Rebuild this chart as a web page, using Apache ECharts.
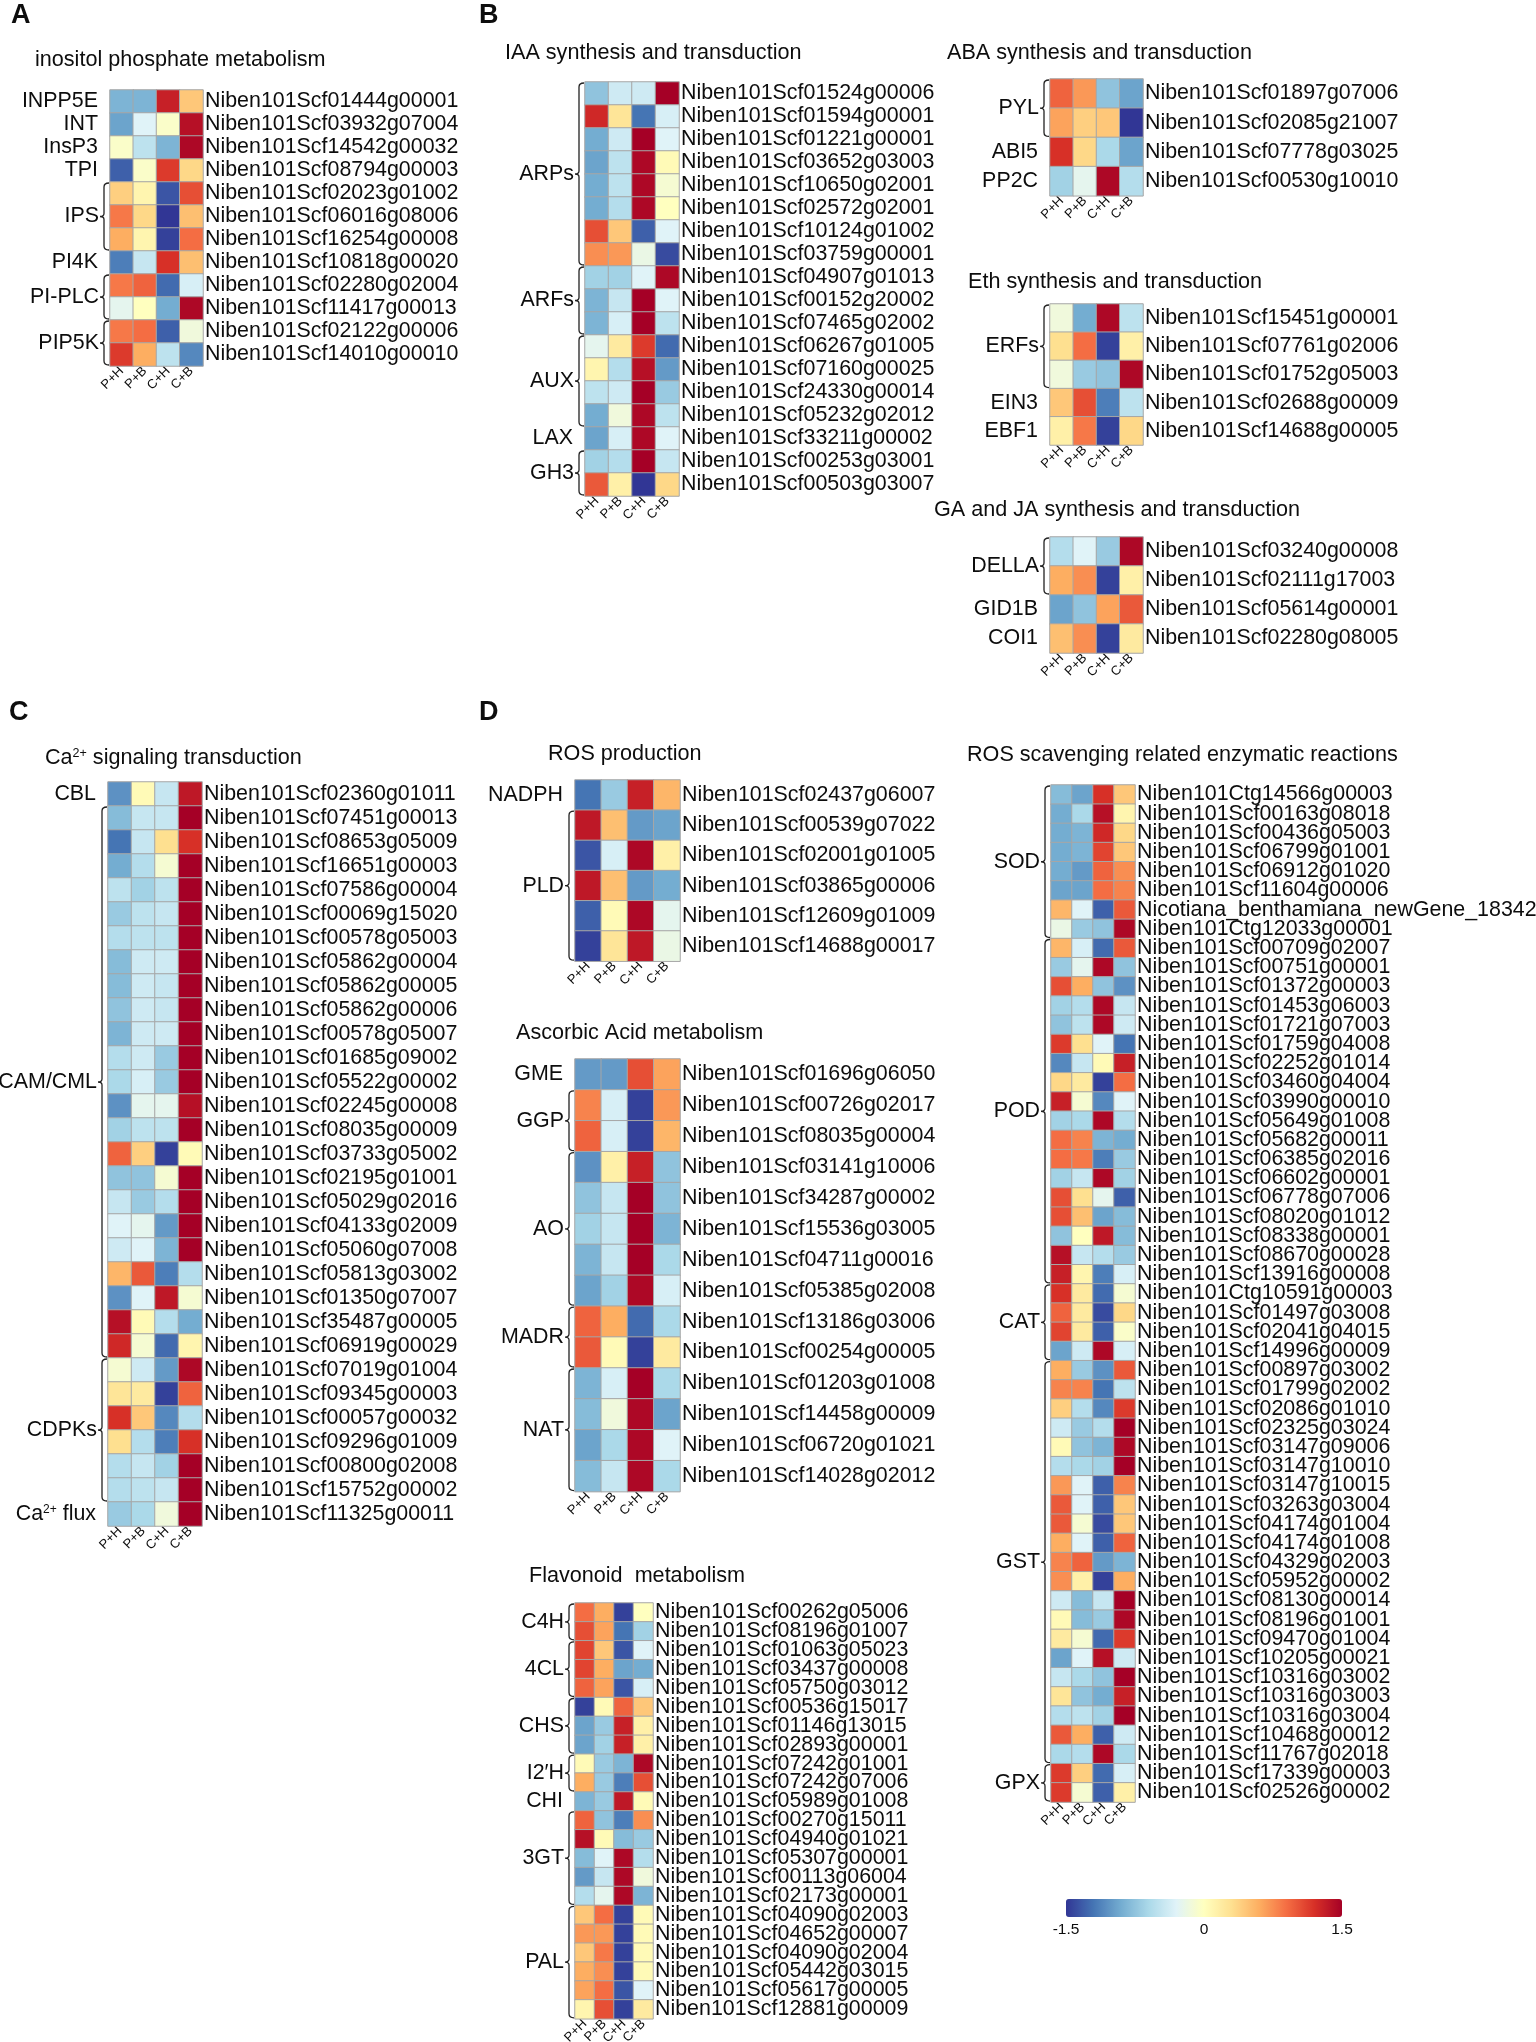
<!DOCTYPE html>
<html>
<head>
<meta charset="utf-8">
<script src="https://cdn.jsdelivr.net/npm/echarts@6/dist/echarts.min.js"></script>
<style>html,body{margin:0;padding:0;background:#fff}#chart{width:1536px;height:2042px}</style>
</head>
<body>
<div id="chart"></div>
<script>
// ---------------- DATA ----------------
const conditions = ['P+H', 'P+B', 'C+H', 'C+B'];

const inositolGenes = ['Niben101Scf01444g00001','Niben101Scf03932g07004','Niben101Scf14542g00032','Niben101Scf08794g00003','Niben101Scf02023g01002','Niben101Scf06016g08006','Niben101Scf16254g00008','Niben101Scf10818g00020','Niben101Scf02280g02004','Niben101Scf11417g00013','Niben101Scf02122g00006','Niben101Scf14010g00010'];
const inositolGroups = [['INPP5E',1],['INT',1],['InsP3',1],['TPI',1],['IPS',3],['PI4K',1],['PI-PLC',2],['PIP5K',2]];
const inositolValues = [
  [-0.85,-0.85,1.3,0.45],[-0.95,-0.3,-0.05,1.4],[-0.05,-0.5,-0.85,1.45],[-1.3,-0.05,1.15,0.35],
  [0.4,0.1,-1.35,1.05],[0.85,0.35,-1.5,0.5],[0.6,0.1,-1.45,0.9],[-1.15,-0.45,1.2,0.5],
  [0.85,0.95,-1.25,-0.35],[-0.25,0.0,-0.9,1.45],[0.85,0.9,-1.3,-0.15],[1.15,0.6,-0.5,-1.1]];

const iaaGenes = ['Niben101Scf01524g00006','Niben101Scf01594g00001','Niben101Scf01221g00001','Niben101Scf03652g03003','Niben101Scf10650g02001','Niben101Scf02572g02001','Niben101Scf10124g01002','Niben101Scf03759g00001','Niben101Scf04907g01013','Niben101Scf00152g20002','Niben101Scf07465g02002','Niben101Scf06267g01005','Niben101Scf07160g00025','Niben101Scf24330g00014','Niben101Scf05232g02012','Niben101Scf33211g00002','Niben101Scf00253g03001','Niben101Scf00503g03007'];
const iaaGroups = [['ARPs',8],['ARFs',3],['AUX',4],['LAX',1],['GH3',2]];
const iaaValues = [
  [-0.75,-0.4,-0.4,1.5],[1.25,0.25,-1.2,-0.35],[-0.9,-0.4,1.5,-0.3],[-0.95,-0.5,1.45,0.05],
  [-0.9,-0.5,1.45,-0.1],[-0.9,-0.55,1.45,0.0],[1.05,0.45,-1.3,-0.3],[0.75,0.7,-0.2,-1.4],
  [-0.65,-0.65,-0.3,1.45],[-0.85,-0.45,1.5,-0.3],[-0.85,-0.35,1.5,-0.5],[-0.25,0.2,1.15,-1.25],
  [0.1,-0.55,1.4,-1.0],[-0.5,-0.4,1.5,-0.7],[-0.9,-0.15,1.45,-0.5],[-0.95,-0.35,1.45,-0.3],
  [-0.65,-0.55,1.5,-0.45],[1.0,0.15,-1.5,0.35]];

const abaGenes = ['Niben101Scf01897g07006','Niben101Scf02085g21007','Niben101Scf07778g03025','Niben101Scf00530g10010'];
const abaGroups = [['PYL',2],['ABI5',1],['PP2C',1]];
const abaValues = [[0.95,0.7,-0.75,-0.95],[0.65,0.4,0.45,-1.5],[1.2,0.35,-0.6,-0.95],[-0.65,-0.25,1.45,-0.55]];

const ethGenes = ['Niben101Scf15451g00001','Niben101Scf07761g02006','Niben101Scf01752g05003','Niben101Scf02688g00009','Niben101Scf14688g00005'];
const ethGroups = [['ERFs',3],['EIN3',1],['EBF1',1]];
const ethValues = [[-0.15,-0.9,1.45,-0.5],[0.3,0.9,-1.45,0.15],[-0.15,-0.7,-0.75,1.45],[0.45,1.05,-1.15,-0.5],[0.15,0.85,-1.45,0.35]];

const gaGenes = ['Niben101Scf03240g00008','Niben101Scf02111g17003','Niben101Scf05614g00001','Niben101Scf02280g08005'];
const gaGroups = [['DELLA',2],['GID1B',1],['COI1',1]];
const gaValues = [[-0.55,-0.3,-0.7,1.45],[0.6,0.75,-1.45,0.15],[-0.95,-0.75,0.65,1.0],[0.5,0.75,-1.45,0.2]];

const caGenes = ['Niben101Scf02360g01011','Niben101Scf07451g00013','Niben101Scf08653g05009','Niben101Scf16651g00003','Niben101Scf07586g00004','Niben101Scf00069g15020','Niben101Scf00578g05003','Niben101Scf05862g00004','Niben101Scf05862g00005','Niben101Scf05862g00006','Niben101Scf00578g05007','Niben101Scf01685g09002','Niben101Scf05522g00002','Niben101Scf02245g00008','Niben101Scf08035g00009','Niben101Scf03733g05002','Niben101Scf02195g01001','Niben101Scf05029g02016','Niben101Scf04133g02009','Niben101Scf05060g07008','Niben101Scf05813g03002','Niben101Scf01350g07007','Niben101Scf35487g00005','Niben101Scf06919g00029','Niben101Scf07019g01004','Niben101Scf09345g00003','Niben101Scf00057g00032','Niben101Scf09296g01009','Niben101Scf00800g02008','Niben101Scf15752g00002','Niben101Scf11325g00011'];
const caGroups = [['CBL',1],['CAM/CML',23],['CDPKs',6],['Ca2+ flux',1]];
const caValues = [
  [-1.05,0.05,-0.45,1.35],[-0.8,-0.45,-0.45,1.5],[-1.2,-0.45,0.3,1.2],[-0.9,-0.55,-0.1,1.5],
  [-0.5,-0.65,-0.5,1.5],[-0.7,-0.5,-0.45,1.5],[-0.55,-0.5,-0.5,1.5],[-0.8,-0.4,-0.4,1.5],
  [-0.8,-0.4,-0.45,1.5],[-0.75,-0.4,-0.45,1.5],[-0.85,-0.4,-0.4,1.5],[-0.55,-0.4,-0.7,1.5],
  [-0.6,-0.35,-0.7,1.5],[-1.05,-0.25,-0.25,1.4],[-0.65,-0.5,-0.5,1.5],[0.95,0.4,-1.45,0.05],
  [-0.75,-0.75,-0.1,1.5],[-0.45,-0.7,-0.55,1.5],[-0.3,-0.25,-1.0,1.5],[-0.4,-0.3,-0.85,1.5],
  [0.55,1.0,-1.15,-0.55],[-1.05,-0.3,1.35,-0.1],[1.4,0.05,-0.55,-0.9],[1.25,-0.1,-1.25,0.1],
  [-0.1,-0.4,-1.0,1.45],[0.25,0.2,-1.45,0.95],[1.2,0.45,-1.1,-0.55],[0.3,-0.55,-1.15,1.2],
  [-0.55,-0.45,-0.65,1.5],[-0.55,-0.5,-0.45,1.5],[-0.7,-0.6,-0.15,1.5]];

const rosGenes = ['Niben101Scf02437g06007','Niben101Scf00539g07022','Niben101Scf02001g01005','Niben101Scf03865g00006','Niben101Scf12609g01009','Niben101Scf14688g00017'];
const rosGroups = [['NADPH',1],['PLD',5]];
const rosValues = [[-1.2,-0.7,1.3,0.55],[1.35,0.5,-1.0,-0.95],[-1.35,-0.35,1.45,0.15],[1.35,0.5,-1.0,-0.9],[-1.3,0.05,1.45,-0.25],[-1.45,0.25,1.35,-0.2]];

const ascGenes = ['Niben101Scf01696g06050','Niben101Scf00726g02017','Niben101Scf08035g00004','Niben101Scf03141g10006','Niben101Scf34287g00002','Niben101Scf15536g03005','Niben101Scf04711g00016','Niben101Scf05385g02008','Niben101Scf13186g03006','Niben101Scf00254g00005','Niben101Scf01203g01008','Niben101Scf14458g00009','Niben101Scf06720g01021','Niben101Scf14028g02012'];
const ascGroups = [['GME',1],['GGP',2],['AO',5],['MADR',2],['NAT',4]];
const ascValues = [
  [-1.0,-1.0,1.05,0.65],[0.8,-0.35,-1.45,0.7],[0.95,-0.35,-1.45,0.55],[-1.05,0.15,1.3,-0.75],
  [-0.75,-0.45,1.5,-0.75],[-0.65,-0.45,1.5,-0.85],[-0.85,-0.45,1.5,-0.6],[-0.95,-0.65,1.45,-0.35],
  [0.95,0.6,-1.25,-0.6],[1.0,0.05,-1.45,0.2],[-0.85,-0.35,1.5,-0.6],[-0.8,-0.15,1.45,-0.95],
  [-0.95,-0.6,1.45,-0.3],[-0.8,-0.45,1.45,-0.6]];

const flavGenes = ['Niben101Scf00262g05006','Niben101Scf08196g01007','Niben101Scf01063g05023','Niben101Scf03437g00008','Niben101Scf05750g03012','Niben101Scf00536g15017','Niben101Scf01146g13015','Niben101Scf02893g00001','Niben101Scf07242g01001','Niben101Scf07242g07006','Niben101Scf05989g01008','Niben101Scf00270g15011','Niben101Scf04940g01021','Niben101Scf05307g00001','Niben101Scf00113g06004','Niben101Scf02173g00001','Niben101Scf04090g02003','Niben101Scf04652g00007','Niben101Scf04090g02004','Niben101Scf05442g03015','Niben101Scf05617g00005','Niben101Scf12881g00009'];
const flavGroups = [['C4H',2],['4CL',3],['CHS',3],['I2\u2032H',2],['CHI',1],['3GT',5],['PAL',6]];
const flavValues = [
  [0.9,0.6,-1.45,0.0],[1.05,0.65,-1.2,-0.65],[1.1,0.45,-1.35,-0.3],[1.1,0.6,-0.95,-0.9],
  [0.95,0.65,-1.35,-0.35],[-1.45,0.05,0.95,0.45],[-0.95,-0.7,1.3,0.15],[-0.95,-0.65,1.3,0.15],
  [0.05,-0.7,-0.85,1.45],[0.6,-0.7,-1.15,1.05],[-0.85,-0.7,1.35,0.05],[0.95,-0.75,-1.15,0.75],
  [1.4,0.05,-0.8,-0.7],[-0.8,-0.3,1.45,-0.55],[-1.0,-0.45,1.45,-0.15],[-0.55,-0.25,1.45,-0.85],
  [0.45,0.9,-1.45,0.05],[0.7,0.7,-1.45,0.05],[0.45,0.85,-1.45,0.05],[0.6,0.75,-1.45,0.05],
  [0.65,0.9,-1.35,-0.3],[0.1,1.05,-1.45,0.2]];

const scavGenes = [
  'Niben101Ctg14566g00003','Niben101Scf00163g08018','Niben101Scf00436g05003','Niben101Scf06799g01001','Niben101Scf06912g01020','Niben101Scf11604g00006','Nicotiana_benthamiana_newGene_18342','Niben101Ctg12033g00001',
  'Niben101Scf00709g02007','Niben101Scf00751g00001','Niben101Scf01372g00003','Niben101Scf01453g06003','Niben101Scf01721g07003','Niben101Scf01759g04008','Niben101Scf02252g01014','Niben101Scf03460g04004','Niben101Scf03990g00010','Niben101Scf05649g01008','Niben101Scf05682g00011','Niben101Scf06385g02016','Niben101Scf06602g00001','Niben101Scf06778g07006','Niben101Scf08020g01012','Niben101Scf08338g00001','Niben101Scf08670g00028','Niben101Scf13916g00008',
  'Niben101Ctg10591g00003','Niben101Scf01497g03008','Niben101Scf02041g04015','Niben101Scf14996g00009',
  'Niben101Scf00897g03002','Niben101Scf01799g02002','Niben101Scf02086g01010','Niben101Scf02325g03024','Niben101Scf03147g09006','Niben101Scf03147g10010','Niben101Scf03147g10015','Niben101Scf03263g03004','Niben101Scf04174g01004','Niben101Scf04174g01008','Niben101Scf04329g02003','Niben101Scf05952g00002','Niben101Scf08130g00014','Niben101Scf08196g01001','Niben101Scf09470g01004','Niben101Scf10205g00021','Niben101Scf10316g03002','Niben101Scf10316g03003','Niben101Scf10316g03004','Niben101Scf10468g00012','Niben101Scf11767g02018',
  'Niben101Scf17339g00003','Niben101Scf02526g00002'];
const scavGroups = [['SOD',8],['POD',18],['CAT',4],['GST',21],['GPX',2]];
const scavValues = [
  [-0.8,-0.95,1.2,0.45],[-0.9,-0.6,1.4,0.1],[-0.9,-0.85,1.25,0.35],[-0.9,-0.85,1.1,0.45],
  [-0.9,-1.0,0.95,0.75],[-0.95,-0.95,0.9,0.8],[0.55,-0.3,-1.3,1.0],[-0.2,-0.7,-0.75,1.45],
  [0.55,-0.35,-1.25,1.0],[-0.7,-0.25,1.45,-0.75],[1.05,0.6,-0.75,-1.05],[-0.65,-0.55,1.45,-0.45],
  [-0.75,-0.5,1.45,-0.4],[1.15,0.3,-0.3,-1.2],[-1.1,-0.45,0.05,1.3],[0.35,0.2,-1.45,0.9],
  [1.3,-0.1,-1.1,-0.3],[-0.65,-0.6,1.45,-0.55],[0.9,0.8,-0.85,-0.9],[0.9,0.85,-1.15,-0.7],
  [-0.65,-0.45,1.45,-0.65],[1.05,0.3,-0.25,-1.3],[1.05,0.5,-0.95,-0.8],[-0.75,0.0,1.35,-0.8],
  [1.4,-0.45,-0.55,-0.7],[1.3,0.1,-1.15,-0.35],
  [1.2,0.2,-1.25,-0.1],[0.95,0.2,-1.4,0.35],[1.1,0.2,-1.3,-0.05],[-0.95,-0.4,1.45,-0.35],
  [0.6,-0.7,-1.05,1.0],[0.8,0.8,-1.2,-0.5],[0.4,-0.55,-1.1,1.15],[-0.4,-0.7,-0.55,1.5],
  [0.05,-0.75,-0.85,1.45],[-0.55,-0.6,-0.65,1.5],[0.7,-0.3,-1.3,0.8],[1.0,-0.3,-1.3,0.45],
  [1.0,-0.1,-1.4,0.45],[0.6,-0.3,-1.3,0.95],[0.8,0.95,-1.0,-0.85],[0.75,0.15,-1.45,0.6],
  [-0.4,-0.8,-0.45,1.5],[0.05,-0.8,-0.7,1.45],[0.2,-0.1,-1.25,1.15],[-0.95,-0.3,1.4,-0.4],
  [-0.45,-0.6,-0.75,1.5],[0.25,-0.75,-0.9,1.3],[-0.55,-0.5,-0.65,1.5],[1.0,0.6,-1.3,-0.4],
  [-0.6,-0.55,1.45,-0.6],
  [1.15,0.4,-1.25,-0.35],[1.15,-0.1,-1.3,0.15]];

const colorTicks = [-1.5, 0, 1.5];

// ---------------- LAYOUT / STYLE ----------------
const FONT = '"Liberation Sans", Arial, Helvetica, sans-serif';
const TXT = '#0d0d0d';
const GENE_FS = 21.4;
const PALETTE = ['#313695','#4575b4','#74add1','#abd9e9','#e0f3f8','#ffffbf','#fee090','#fdae61','#f46d43','#d73027','#a50026'];

const panels = [
  {genes: inositolGenes, values: inositolValues, groups: inositolGroups, left: 110, top: 90, width: 93, rowH: 23},
  {genes: iaaGenes, values: iaaValues, groups: iaaGroups, left: 585, top: 82, width: 94, rowH: 23},
  {genes: abaGenes, values: abaValues, groups: abaGroups, left: 1050, top: 79, width: 93, rowH: 29.2},
  {genes: ethGenes, values: ethValues, groups: ethGroups, left: 1050, top: 304, width: 93, rowH: 28.2},
  {genes: gaGenes, values: gaValues, groups: gaGroups, left: 1050, top: 537, width: 93, rowH: 29},
  {genes: caGenes, values: caValues, groups: caGroups, left: 108, top: 782, width: 94, rowH: 24},
  {genes: rosGenes, values: rosValues, groups: rosGroups, left: 575, top: 780, width: 105, rowH: 30.2},
  {genes: ascGenes, values: ascValues, groups: ascGroups, left: 575, top: 1059, width: 105, rowH: 30.9},
  {genes: flavGenes, values: flavValues, groups: flavGroups, left: 575, top: 1603, width: 78, rowH: 18.9},
  {genes: scavGenes, values: scavValues, groups: scavGroups, left: 1051, top: 785, width: 84, rowH: 19.19}
];

const headings = [
  {text: 'A', left: 11, cy: 17, bold: true},
  {text: 'inositol phosphate metabolism', left: 35, cy: 61},
  {text: 'B', left: 479, cy: 17, bold: true},
  {text: 'IAA synthesis and transduction', left: 505, cy: 54},
  {text: 'ABA synthesis and transduction', left: 947, cy: 54},
  {text: 'Eth synthesis and transduction', left: 968, cy: 283},
  {text: 'GA and JA synthesis and transduction', left: 934, cy: 511},
  {text: 'C', left: 9, cy: 714, bold: true},
  {text: '{a|Ca}{s|2+}{a| signaling transduction}', left: 45, cy: 759},
  {text: 'D', left: 479, cy: 714, bold: true},
  {text: 'ROS production', left: 548, cy: 755},
  {text: 'Ascorbic Acid metabolism', left: 516, cy: 1034},
  {text: 'Flavonoid  metabolism', left: 529, cy: 1577},
  {text: 'ROS scavenging related enzymatic reactions', left: 967, cy: 756}
];

function richText(name) {
  if (name.indexOf('2+') >= 0) {
    const parts = name.split('2+');
    return '{a|' + parts[0] + '}{s|2+}{a|' + parts[1] + '}';
  }
  return name;
}

function makeBrace(names) {
  return function (params, api) {
    const s = api.value(1), e = api.value(2);
    const band = api.size([1, 1]);
    const c0 = api.coord([0, s]);
    const c1 = api.coord([0, e]);
    const gx = c0[0] - band[0] / 2;
    const y0 = c0[1] - band[1] / 2;
    const y1 = c1[1] + band[1] / 2;
    const ym = (y0 + y1) / 2;
    const children = [];
    if (e > s) {
      const x1 = gx - 1, xm = gx - 6, xt = gx - 10;
      const d = 'M' + x1 + ' ' + (y0 + 1) + ' Q' + xm + ' ' + (y0 + 1) + ' ' + xm + ' ' + (y0 + 5) +
        ' L' + xm + ' ' + (ym - 3) + ' Q' + xm + ' ' + ym + ' ' + xt + ' ' + ym +
        ' Q' + xm + ' ' + ym + ' ' + xm + ' ' + (ym + 3) +
        ' L' + xm + ' ' + (y1 - 5) + ' Q' + xm + ' ' + (y1 - 1) + ' ' + x1 + ' ' + (y1 - 1);
      children.push({type: 'path', shape: {pathData: d}, style: {stroke: '#222', fill: null, lineWidth: 1.3}});
    }
    children.push({
      type: 'text',
      style: {
        text: richText(names[params.dataIndex]),
        x: (e > s) ? gx - 11 : gx - 12, y: ym,
        textAlign: 'right', textVerticalAlign: 'middle', align: 'right', verticalAlign: 'middle',
        font: GENE_FS + 'px ' + FONT, fill: TXT,
        rich: {
          a: {font: GENE_FS + 'px ' + FONT, fill: TXT, color: TXT},
          s: {font: '12px ' + FONT, fill: TXT, color: TXT, verticalAlign: 'top'}
        }
      }
    });
    return {type: 'group', children: children};
  };
}

const grids = [], xAxes = [], yAxes = [], series = [], heatIdx = [];
panels.forEach(function (p, i) {
  const n = p.genes.length;
  grids.push({left: p.left, top: p.top, width: p.width, height: p.rowH * n, containLabel: false, outerBoundsMode: 'none'});
  xAxes.push({
    type: 'category', gridIndex: i, data: conditions, position: 'bottom',
    axisLine: {show: false}, axisTick: {show: false}, splitLine: {show: false},
    axisLabel: {rotate: 45, fontSize: 13, margin: 3, interval: 0, color: TXT, fontFamily: FONT}
  });
  yAxes.push({
    type: 'category', gridIndex: i, data: p.genes, inverse: true, position: 'right',
    axisLine: {show: false}, axisTick: {show: false}, splitLine: {show: false},
    axisLabel: {interval: 0, margin: 2, fontSize: GENE_FS, color: TXT, fontFamily: FONT}
  });
  const data = [];
  p.values.forEach(function (row, r) { row.forEach(function (v, c) { data.push([c, r, v]); }); });
  heatIdx.push(series.length);
  series.push({
    type: 'heatmap', xAxisIndex: i, yAxisIndex: i, data: data, silent: true,
    itemStyle: {borderColor: '#a6a6a6', borderWidth: 1},
    emphasis: {disabled: true}
  });
  let st = 0;
  const gdata = [], gnames = [];
  p.groups.forEach(function (g) { gdata.push([0, st, st + g[1] - 1]); gnames.push(g[0]); st += g[1]; });
  series.push({
    type: 'custom', xAxisIndex: i, yAxisIndex: i, data: gdata, encode: {x: 0, y: 1},
    clip: false, silent: true, renderItem: makeBrace(gnames)
  });
});

// colour bar axis
const cbIndex = panels.length;
grids.push({left: 1066, top: 1899, width: 276, height: 18, containLabel: false, outerBoundsMode: 'none'});
xAxes.push({
  type: 'value', gridIndex: cbIndex, min: colorTicks[0], max: colorTicks[colorTicks.length - 1], interval: 1.5,
  axisLine: {show: false}, axisTick: {show: false}, splitLine: {show: false},
  axisLabel: {fontSize: 15.5, margin: 5, color: TXT, fontFamily: FONT, formatter: function (v) { return String(v); }}
});
yAxes.push({type: 'category', gridIndex: cbIndex, data: [''], show: false});

const titles = headings.map(function (h) {
  const fs = h.bold ? 27 : 21.6;
  return {
    text: h.text, left: h.left, top: h.cy - fs / 2 - 1, padding: 0,
    textStyle: {
      fontSize: fs, fontWeight: h.bold ? 'bold' : 'normal', color: TXT, fontFamily: FONT,
      rich: {
        a: {fontSize: 21.6, color: TXT, fontFamily: FONT},
        s: {fontSize: 12.5, color: TXT, fontFamily: FONT, verticalAlign: 'top'}
      }
    }
  };
});

const option = {
  backgroundColor: '#ffffff',
  animation: false,
  title: titles,
  grid: grids,
  xAxis: xAxes,
  yAxis: yAxes,
  visualMap: {
    type: 'continuous', min: -1.5, max: 1.5, seriesIndex: heatIdx,
    orient: 'horizontal', left: 1066, top: 1899, itemWidth: 18, itemHeight: 276,
    calculable: false, hoverLink: false, padding: 0,
    inRange: {color: PALETTE}
  },
  series: series
};

const chart = echarts.init(document.getElementById('chart'), null, {renderer: 'canvas'});
chart.setOption(option);
</script>
</body>
</html>
